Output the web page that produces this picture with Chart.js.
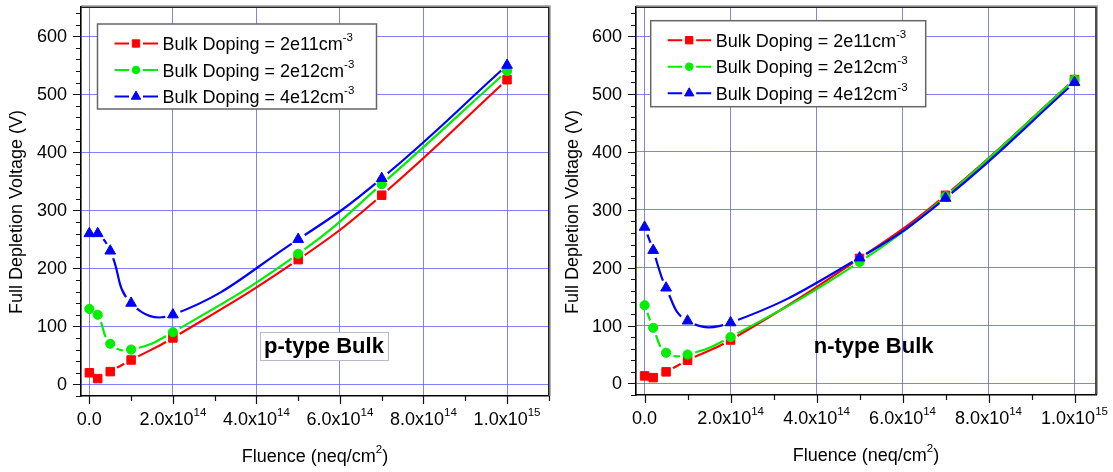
<!DOCTYPE html>
<html>
<head>
<meta charset="utf-8">
<script src="https://cdn.jsdelivr.net/npm/chart.js@4/dist/chart.umd.min.js"></script>
<style>
  html, body { margin: 0; padding: 0; background: #fff; }
  #wrap { position: relative; width: 1113px; height: 472px; overflow: hidden; }
  canvas { position: absolute; top: 0; }
</style>
</head>
<body>
<div id="wrap">
  <canvas id="pChart" width="556" height="472" style="left:0"></canvas>
  <canvas id="nChart" width="557" height="472" style="left:556px"></canvas>
</div>
<script>
// Fluence points (neq/cm^2) shared by every series
const fluence = [0, 2e13, 5e13, 1e14, 2e14, 5e14, 7e14, 1e15];

// p-type bulk: full depletion voltage (V)
const pBulk2e11 = [20, 10, 22, 42, 80, 215, 326, 525];
const pBulk2e12 = [130, 120, 70, 60, 90, 225, 345, 540];
const pBulk4e12 = [260, 260, 230, 140, 120, 250, 355, 550];

// n-type bulk: full depletion voltage (V)
const nBulk2e11 = [13, 10, 20, 40, 75, 216, 325, 525];
const nBulk2e12 = [135, 96, 53, 50, 80, 210, 323, 525];
const nBulk4e12 = [270, 230, 165, 108, 105, 217, 320, 520];

// Legend text (base + superscript)
const seriesLabels = ['Bulk Doping = 2e11cm', 'Bulk Doping = 2e12cm', 'Bulk Doping = 4e12cm'];
const seriesLabelSup = '-3';

// Axis ticks and labels
const yTicks = [0, 100, 200, 300, 400, 500, 600];
const xTicks = [0, 2e14, 4e14, 6e14, 8e14, 1e15];
const xTickText = ['0.0', '2.0x10', '4.0x10', '6.0x10', '8.0x10', '1.0x10'];
const xTickSup = ['', '14', '14', '14', '14', '15'];
const xTitle = ['Fluence (neq/cm', '2', ')'];
const yTitle = 'Full Depletion Voltage (V)';

const FONT = "'Liberation Sans', Arial, sans-serif";
const COLORS = ['#ff0000', '#00ee00', '#0000ff'];
const STYLES = ['rect', 'circle', 'triangle'];
const RADII = [6, 4.6, 6.2];
const GAP = 8;

// width of "base" followed by a smaller raised "sup"
function supWidth(ctx, base, sup, size, supSize) {
  ctx.font = size + 'px ' + FONT;
  const w1 = ctx.measureText(base).width;
  ctx.font = supSize + 'px ' + FONT;
  const w2 = sup ? ctx.measureText(sup).width : 0;
  return w1 + w2;
}
function drawSup(ctx, base, sup, x, y, size, supSize, rise, tail) {
  ctx.textAlign = 'left';
  ctx.textBaseline = 'alphabetic';
  ctx.font = size + 'px ' + FONT;
  ctx.fillText(base, x, y);
  let cx = x + ctx.measureText(base).width;
  if (sup) {
    ctx.font = supSize + 'px ' + FONT;
    ctx.fillText(sup, cx, y - rise);
    cx += ctx.measureText(sup).width;
  }
  if (tail) {
    ctx.font = size + 'px ' + FONT;
    ctx.fillText(tail, cx, y);
  }
}

const framePlugin = {
  id: 'frame',
  // open gaps in each line around its markers
  beforeDatasetDraw(chart, args) {
    const ctx = chart.ctx;
    ctx.save();
    for (const pt of args.meta.data) {
      ctx.beginPath();
      ctx.rect(0, 0, chart.width, chart.height);
      ctx.arc(pt.x, pt.y, GAP, 0, Math.PI * 2);
      ctx.clip('evenodd');
    }
  },
  afterDatasetDraw(chart, args) {
    const ctx = chart.ctx;
    ctx.restore();
    for (const pt of args.meta.data) pt.draw(ctx, chart.chartArea);
  },
  afterDraw(chart, args, opts) {
    const ctx = chart.ctx;
    const a = chart.chartArea;
    const xs = chart.scales.x, ys = chart.scales.y;
    ctx.save();

    // top and right frame
    ctx.strokeStyle = '#a0a0a0';
    ctx.lineWidth = 1;
    ctx.beginPath();
    ctx.moveTo(a.left, a.top - 1.5); ctx.lineTo(a.right + 1.5, a.top - 1.5);
    ctx.moveTo(a.right + 1.5, a.top - 1.5); ctx.lineTo(a.right + 1.5, a.bottom);
    ctx.stroke();
    ctx.strokeStyle = '#222';
    ctx.lineWidth = 1.6;
    ctx.beginPath();
    ctx.moveTo(a.left, a.top); ctx.lineTo(a.right, a.top); ctx.lineTo(a.right, a.bottom);
    ctx.stroke();

    // tick marks (major and minor), outward
    ctx.strokeStyle = '#111';
    ctx.lineWidth = 1.2;
    ctx.beginPath();
    for (let v = -20; v <= 650; v += 20) {
      const y = Math.round(ys.getPixelForValue(v)) + 0.5;
      const len = (v % 100 === 0) ? 8 : 5;
      ctx.moveTo(a.left, y); ctx.lineTo(a.left - len, y);
    }
    for (let k = 0; k * 1e14 <= xs.max + 1; k++) {
      const x = Math.round(xs.getPixelForValue(k * 1e14)) + 0.5;
      const len = (k % 2 === 0) ? 8 : 5;
      ctx.moveTo(x, a.bottom); ctx.lineTo(x, a.bottom + len);
    }
    ctx.stroke();

    ctx.fillStyle = '#000';
    // y tick labels
    ctx.font = '18px ' + FONT;
    ctx.textAlign = 'right';
    ctx.textBaseline = 'middle';
    yTicks.forEach(v => ctx.fillText(String(v), a.left - 14, ys.getPixelForValue(v) + 1));

    // x tick labels with exponent
    xTicks.forEach((v, i) => {
      const w = supWidth(ctx, xTickText[i], xTickSup[i], 18, 11.5);
      const x = xs.getPixelForValue(v);
      drawSup(ctx, xTickText[i], xTickSup[i], x - w / 2, a.bottom + 29, 18, 11.5, 9);
    });

    // x title
    {
      ctx.font = '18px ' + FONT;
      const wTail = ctx.measureText(xTitle[2]).width;
      const w = supWidth(ctx, xTitle[0], xTitle[1], 18, 11.5) + wTail;
      drawSup(ctx, xTitle[0], xTitle[1], (a.left + a.right) / 2 - w / 2, a.bottom + 66, 18, 11.5, 9, xTitle[2]);
    }

    // y title
    ctx.save();
    ctx.translate(opts.yTitleX, opts.yTitleY);
    ctx.rotate(-Math.PI / 2);
    ctx.font = '18px ' + FONT;
    ctx.textAlign = 'center';
    ctx.textBaseline = 'middle';
    ctx.fillText(yTitle, 0, 0);
    ctx.restore();

    // legend
    const L = opts.legend;
    ctx.fillStyle = '#fff';
    ctx.fillRect(L.x, L.y, L.w, L.h);
    ctx.strokeStyle = '#666';
    ctx.lineWidth = 1.5;
    ctx.strokeRect(L.x, L.y, L.w, L.h);
    const rowY = [19.5, 46, 72.5];
    chart.data.datasets.forEach((ds, i) => {
      const y = L.y + rowY[i];
      const mx = L.x + 38.5;
      ctx.strokeStyle = ds.borderColor;
      ctx.lineWidth = 2;
      ctx.beginPath();
      ctx.moveTo(L.x + 17, y); ctx.lineTo(mx - GAP + 1, y);
      ctx.moveTo(mx + GAP - 1, y); ctx.lineTo(L.x + 60.5, y);
      ctx.stroke();
      ctx.fillStyle = ds.borderColor;
      ctx.lineWidth = 1;
      Chart.helpers.drawPoint(ctx, { pointStyle: ds.pointStyle, radius: ds.pointRadius - 0.8, borderWidth: 1, rotation: 0 }, mx, y);
      ctx.fillStyle = '#000';
      drawSup(ctx, seriesLabels[i], seriesLabelSup, L.x + 65, y + 6.5, 18, 11.5, 9);
    });

    // bulk type label
    const N = opts.note;
    if (N.box) {
      ctx.fillStyle = '#fff';
      ctx.fillRect(N.box[0], N.box[1], N.box[2], N.box[3]);
      ctx.strokeStyle = '#b8b8c8';
      ctx.lineWidth = 1;
      ctx.strokeRect(N.box[0] + 0.5, N.box[1] + 0.5, N.box[2], N.box[3]);
    }
    ctx.fillStyle = '#000';
    ctx.font = 'bold 22px ' + FONT;
    ctx.textAlign = 'center';
    ctx.textBaseline = 'middle';
    ctx.fillText(N.text, N.x, N.y);

    ctx.restore();
  }
};

function makeChart(id, series, cfg) {
  return new Chart(document.getElementById(id), {
    type: 'line',
    data: {
      datasets: series.map((vals, i) => ({
        label: seriesLabels[i],
        data: fluence.map((x, k) => ({ x: x, y: vals[k] })),
        borderColor: COLORS[i],
        backgroundColor: COLORS[i],
        pointBackgroundColor: COLORS[i],
        pointBorderColor: COLORS[i],
        pointStyle: STYLES[i],
        pointRadius: RADII[i],
        pointBorderWidth: 1,
        borderWidth: 2.2,
        tension: 0.45,
        fill: false,
        order: 3 - i
      }))
    },
    options: {
      responsive: false,
      animation: false,
      devicePixelRatio: 1,
      layout: { padding: { left: 0, right: cfg.padRight, top: cfg.padTop, bottom: 0 } },
      plugins: {
        legend: { display: false },
        tooltip: { enabled: false },
        frame: cfg
      },
      scales: {
        x: {
          type: 'linear',
          min: -2e13,
          max: cfg.xMax,
          afterBuildTicks: s => { s.ticks = xTicks.map(v => ({ value: v })); },
          afterFit: s => { s.height = cfg.xAxisHeight; },
          ticks: { display: false },
          grid: { color: 'rgba(90,90,245,0.75)', lineWidth: 1, drawTicks: false },
          border: { color: '#000', width: 1.6 }
        },
        y: {
          type: 'linear',
          min: -20,
          max: 650,
          afterBuildTicks: s => { s.ticks = yTicks.map(v => ({ value: v })); },
          afterFit: s => { s.width = cfg.yAxisWidth; },
          ticks: { display: false },
          grid: { color: 'rgba(90,90,245,0.75)', lineWidth: 1, drawTicks: false },
          border: { color: '#000', width: 1.6 }
        }
      }
    },
    plugins: [framePlugin]
  });
}

makeChart('pChart', [pBulk2e11, pBulk2e12, pBulk4e12], {
  yAxisWidth: 81, xAxisHeight: 76, padTop: 5, padRight: 7, xMax: 1.1e15,
  yTitleX: 17, yTitleY: 212,
  legend: { x: 97.5, y: 24, w: 279, h: 85 },
  note: { text: 'p-type Bulk', x: 324, y: 347, box: [260, 332, 128, 28] }
});

makeChart('nChart', [nBulk2e11, nBulk2e12, nBulk4e12], {
  yAxisWidth: 80, xAxisHeight: 77, padTop: 2, padRight: 17, xMax: 1.05e15,
  yTitleX: 17, yTitleY: 212,
  legend: { x: 94.7, y: 20.7, w: 275, h: 86 },
  note: { text: 'n-type Bulk', x: 317.6, y: 347, box: null }
});
</script>
</body>
</html>
